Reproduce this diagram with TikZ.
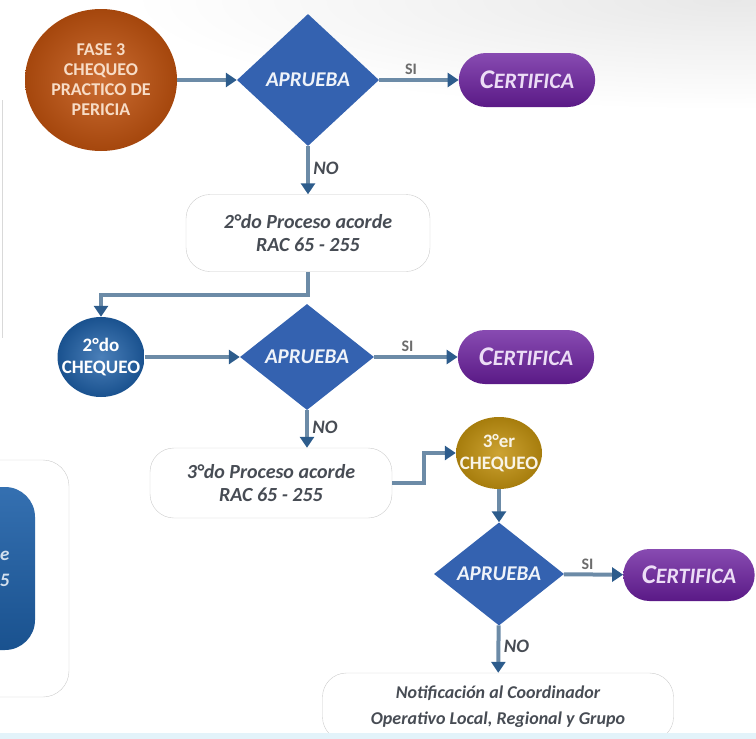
\documentclass[tikz,border=0pt]{standalone}
\usepackage{fontspec}
\setmainfont{Carlito}
\usetikzlibrary{shapes.geometric,shapes.misc,arrows.meta}
\definecolor{naranja}{HTML}{C2530F}
\definecolor{crema}{HTML}{F7DCC6}
\definecolor{azuld}{HTML}{3462B0}
\definecolor{azulc}{HTML}{1E60A8}
\definecolor{morado}{HTML}{6A1E9E}
\definecolor{lila}{HTML}{ECDDF6}
\definecolor{dorado}{HTML}{C4930F}
\definecolor{linea}{HTML}{6C8BA7}
\definecolor{punta}{HTML}{2D5C8C}
\definecolor{gristxt}{HTML}{474C54}
\definecolor{celeste}{HTML}{E3F3FA}
\newcommand{\certifica}{{\fontsize{27}{27}\selectfont C}{\fontsize{22}{22}\selectfont ERTIFICA}}
\begin{document}
\begin{tikzpicture}[x=1pt,y=-1pt,
    flecha/.style={line width=4pt,draw=linea,-{Triangle[length=11pt,width=14pt,color=punta]}},
    decide/.style={diamond,fill=azuld,inner sep=0pt,text=white!92!azuld,
      font=\fontsize{21}{21}\selectfont\bfseries\itshape},
    certif/.style={rounded rectangle,top color=morado!80!white,bottom color=morado!85!black,
      minimum width=143pt,minimum height=54pt,text=lila,font=\bfseries\itshape},
    proceso/.style={draw=gray!40,fill=white,rounded corners=24pt,align=center,text=gristxt,
      font=\fontsize{20}{23}\selectfont\bfseries\itshape},
    chequeo/.style={ellipse,inner sep=0pt,align=center,font=\fontsize{19}{22}\selectfont\bfseries},
    etq/.style={text=gristxt,font=\fontsize{19}{19}\selectfont\bfseries\itshape},
    si/.style={text=gray!85!black,font=\fontsize{16}{16}\selectfont\bfseries}]

        \useasboundingbox (0,0) rectangle (756,739);
        \shade[inner color=black!9,outer color=white] (730,0) ellipse (600 and 110);

        \draw[gray!30] (2,100) -- (2,338);
        \draw[gray!40,fill=white,rounded corners=26pt] (-120,460) rectangle (69,697);
        \shade[top color=azulc!90!white,bottom color=azulc!85!black,rounded corners=30pt] (-120,487) rectangle (35,650);
        \node[anchor=east,text=azulc!20!white,font=\fontsize{19}{19}\selectfont\bfseries\itshape] (e1) at (13,556) {e};
        \node[anchor=east,text=azulc!20!white,font=\fontsize{19}{19}\selectfont\bfseries\itshape] (e2) at (13,580) {5};

        \node[chequeo,inner color=naranja!85!white,outer color=naranja!85!black,text=crema,
          minimum width=152pt,minimum height=142pt,font=\fontsize{18}{20}\selectfont\bfseries] (fase) at (101,80)
          {FASE 3\\CHEQUEO\\PRACTICO DE\\PERICIA};
        \node[decide,minimum width=142pt,minimum height=132pt] (ap1) at (308,80) {APRUEBA};
        \node[certif] (cert1) at (527,80) {\certifica};
        \node[proceso,minimum width=244pt,minimum height=77pt] (proc2) at (308,233) {2°do Proceso acorde\\RAC 65 - 255};

        \node[chequeo,inner color=azulc!80!white,outer color=azulc!85!black,text=white,
          minimum width=87pt,minimum height=80pt] (cheq2) at (101,357) {2°do\\\makebox[0pt]{CHEQUEO}};
        \node[decide,minimum width=134pt,minimum height=106pt] (ap2) at (307,357) {APRUEBA};
        \node[certif] (cert2) at (526,357) {\certifica};
        \node[proceso,minimum width=242pt,minimum height=70pt] (proc3) at (271,483) {3°do Proceso acorde\\RAC 65 - 255};

        \node[chequeo,inner color=dorado!85!white,outer color=dorado!85!black,text=white!90!dorado,
          minimum width=86pt,minimum height=72pt] (cheq3) at (499,453) {3°er\\\makebox[0pt]{CHEQUEO}};
        \node[decide,minimum width=130pt,minimum height=103pt] (ap3) at (499,574) {APRUEBA};
        \node[certif,minimum width=138pt,minimum height=52pt] (cert3) at (689,575) {\certifica};
        \node[proceso,minimum width=351pt,minimum height=68pt,font=\fontsize{18}{26}\selectfont\bfseries\itshape] (notif) at (498,707)
          {Notificación al Coordinador\\Operativo Local, Regional y Grupo};

        \draw[flecha] (fase) -- (ap1);
        \draw[flecha] (ap1) -- node[si,above,pos=.4] {SI} (cert1);
        \draw[flecha] (ap1) -- node[etq,right,pos=.45] {NO} (proc2);
        \draw[flecha] (proc2.south) -- ++(0,23) -| (cheq2);
        \draw[flecha] (cheq2) -- (ap2);
        \draw[flecha] (ap2) -- node[si,above,pos=.4] {SI} (cert2);
        \draw[flecha] (ap2) -- node[etq,right,pos=.45] {NO} (ap2.south |- proc3.north);
        \draw[flecha] (proc3.east) -- ++(32,0) |- (cheq3);
        \draw[flecha] (cheq3) -- (ap3);
        \draw[flecha] (ap3) -- node[si,above,pos=.4] {SI} (cert3);
        \draw[flecha] (ap3) -- node[etq,right,pos=.45] {NO} (notif);

        \fill[celeste] (0,733) rectangle (756,739);
      \end{tikzpicture}
\end{document}
